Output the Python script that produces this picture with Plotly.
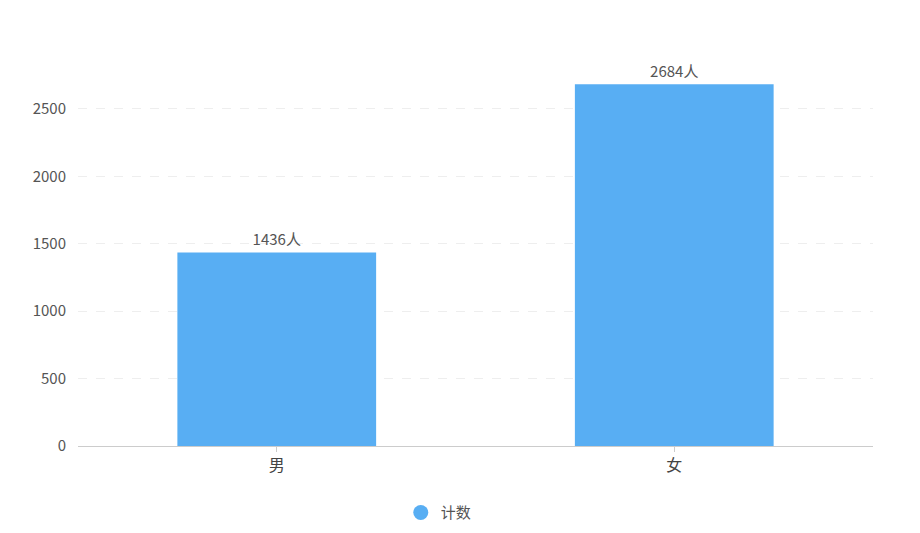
import plotly.graph_objects as go

# data
categories = ['男', '女']
counts = [1436, 2684]
labels = [f'{v}人' for v in counts]

fig = go.Figure()
fig.add_trace(go.Bar(
    x=categories, y=counts, name='计数',
    text=labels, textposition='outside', cliponaxis=False,
    textfont=dict(size=15, color='#555'),
    marker=dict(color='#58aef3', line=dict(width=0)),
    width=0.5, showlegend=False,
))

# legend marker drawn as a circle
fig.add_trace(go.Scatter(
    x=[None], y=[None], mode='markers', name='计数',
    marker=dict(symbol='circle', size=15, color='#58aef3'),
))

# page body adds ~8px offset, margins compensate for it
fig.update_layout(
    width=920, height=533,
    margin=dict(l=70, r=55, t=74, b=95, autoexpand=False),
    plot_bgcolor='white', paper_bgcolor='white',
    font=dict(family='Noto Sans CJK SC, sans-serif', color='#555', size=13),
    showlegend=True,
    legend=dict(orientation='h', x=0.406, xanchor='left',
                yref='container', y=0.053, yanchor='middle',
                font=dict(size=15, color='#555'), itemwidth=30),
)
fig.update_xaxes(
    showline=True, linecolor='#ccc', linewidth=1,
    ticks='outside', tickcolor='#ccc', ticklen=5,
    tickfont=dict(size=16, color='#444'), showgrid=False, automargin=False,
)
fig.update_yaxes(
    range=[0, 2700], tickvals=[0, 500, 1000, 1500, 2000, 2500],
    showgrid=True, gridcolor='#eeeeee', griddash='dash', zeroline=False,
    tickfont=dict(size=15, color='#555'), ticklabelstandoff=11, automargin=False,
)

fig.write_html('out.html')
